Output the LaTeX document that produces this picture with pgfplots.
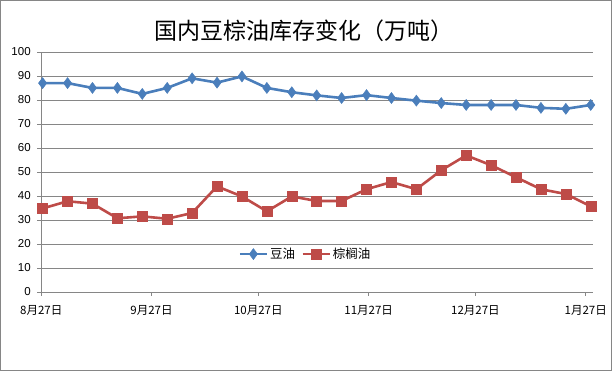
\documentclass[border=0pt]{standalone}
\usepackage{pgfplots}
\pgfplotsset{compat=1.18}
\usepackage{pgfplotstable}
\usepackage{fontspec}
\setmainfont{Liberation Sans}
\newfontfamily\cjk{Noto Sans CJK SC}
\definecolor{sblue}{HTML}{4A7EBB}
\definecolor{sred}{HTML}{BE4B48}
\definecolor{gridc}{HTML}{868686}

\pgfplotstableread{
x soy palm
0.4 87 34.8
7.4 87 37.8
14.4 85 36.8
21.4 85 30.7
28.4 82.5 31.5
35.4 85 30.5
42.4 89 32.9
49.4 87.2 44
56.4 89.8 39.8
63.4 85 33.6
70.4 83.2 39.8
77.4 81.9 37.9
84.4 80.8 37.9
91.4 82 42.8
98.4 80.8 45.8
105.4 79.7 42.8
112.4 78.7 50.7
119.4 77.9 56.9
126.4 77.9 52.8
133.4 77.9 47.8
140.4 76.7 42.8
147.4 76.3 40.8
154.4 77.9 35.7
}\data

\begin{document}
\begin{tikzpicture}[x=1pt,y=1pt]
\draw[gridc, line width=0.8pt] (0.5,0.5) rectangle (611.5,370.5);
\node[font=\cjk\fontsize{23}{28}\selectfont] at (304,340.5) {国内豆棕油库存变化（万吨）};
\begin{axis}[
  at={(41.3pt,79pt)}, anchor=south west,
  scale only axis, width=551.5pt, height=240pt,
  xmin=0, xmax=155, ymin=0, ymax=100,
  axis x line*=bottom, axis y line*=left,
  axis line style={gridc, line width=0.8pt},
  every tick/.style={gridc, line width=0.8pt},
  major tick length=4pt, tick align=outside,
  xtick={0,31,61,92,122,153},
  xticklabels={8月27日,9月27日,10月27日,11月27日,12月27日,1月27日},
  xticklabel style={font=\cjk\fontsize{11.5}{13}\selectfont, yshift=-6pt},
  ytick={0,10,...,100},
  yticklabel style={font=\fontsize{11.5}{13}\selectfont, xshift=-3pt},
  /pgf/number format/assume math mode=true,
  ymajorgrids, grid style={gridc, line width=0.8pt},
  legend style={draw=none, fill=none, at={(0.479,0.158)}, anchor=center,
    font=\cjk\fontsize{12.5}{14}\selectfont, legend columns=2,
    /tikz/every even column/.append style={column sep=4pt}},
  legend image code/.code={\draw[mark repeat=2,mark phase=2,#1] plot coordinates {(0pt,0pt)(13.5pt,0pt)(27pt,0pt)};},
]
\addplot[sblue, line width=2.6pt, mark=diamond*, mark size=5.5pt, mark options={line width=0.5pt}] table[x=x,y=soy] {\data};
\addlegendentry{豆油}
\addplot[sred, line width=2.6pt, mark=square*, mark size=5pt, mark options={line width=0.5pt}] table[x=x,y=palm] {\data};
\addlegendentry{棕榈油}
\end{axis}
\end{tikzpicture}
\end{document}
